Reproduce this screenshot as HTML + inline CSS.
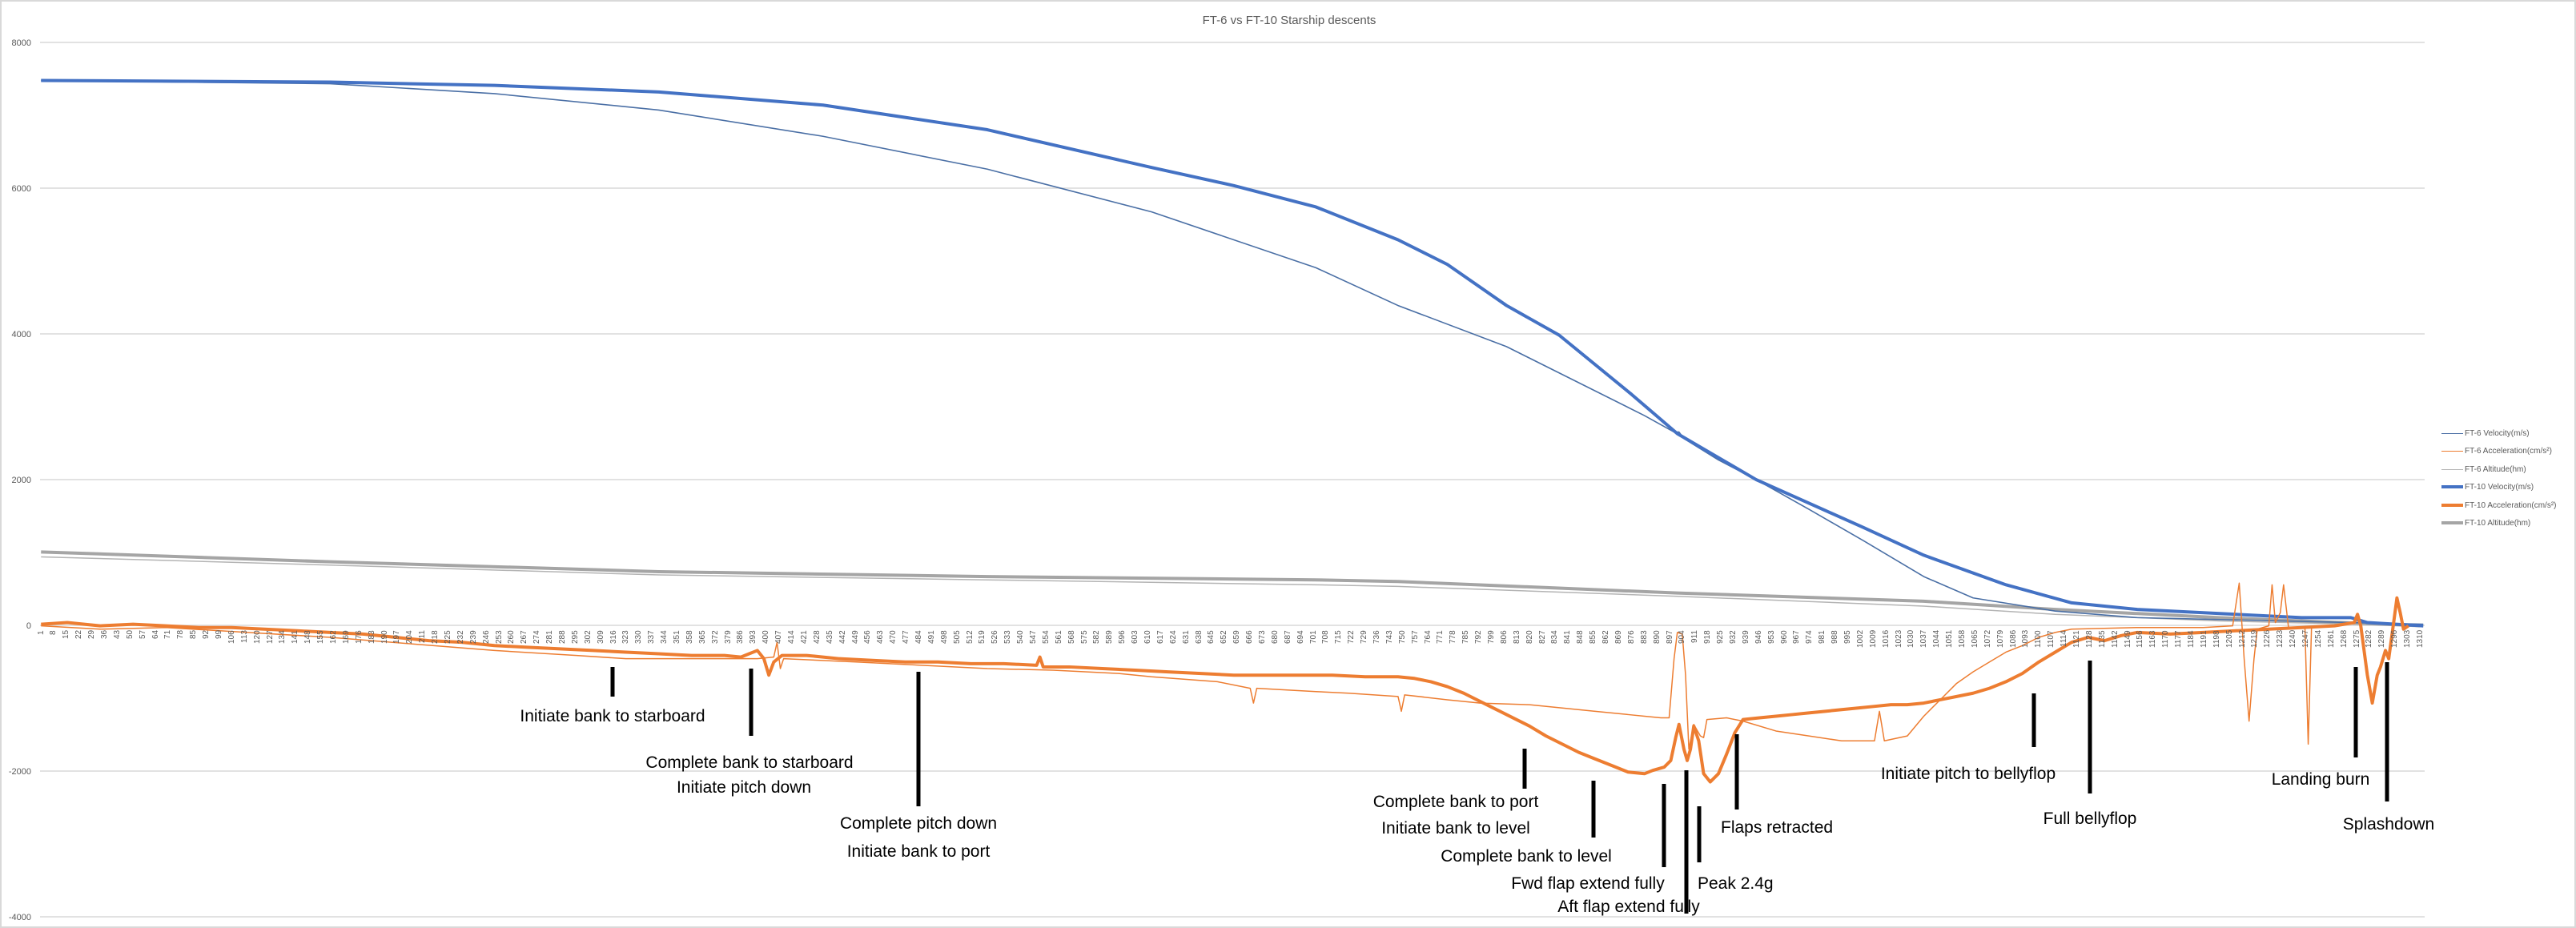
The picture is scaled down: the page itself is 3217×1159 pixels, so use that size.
<!DOCTYPE html>
<html><head><meta charset="utf-8"><style>
html,body{margin:0;padding:0;background:#fff}
#c{position:relative;width:3217px;height:1159px;overflow:hidden;font-family:"Liberation Sans",sans-serif;background:#fff;box-sizing:border-box;border:2px solid #d9d9d9}
svg{position:absolute;left:0;top:0}
#ticks{position:absolute;left:41.5px;top:785px;height:26px;white-space:nowrap;font-size:10px;color:#595959;line-height:16px}
#ticks i{font-style:normal;display:inline-block;width:15.906px;height:26px;writing-mode:vertical-rl;transform:rotate(180deg);text-align:end;vertical-align:top}
.lg{position:absolute;left:3047px;font-size:10px;color:#595959;white-space:nowrap;line-height:12px}
.lg b{display:inline-block;width:27px;vertical-align:middle;margin-right:2px}
</style></head><body><div id="c">
<svg width="3217" height="1159" viewBox="0 0 3217 1159">
<text x="1608" y="28" text-anchor="middle" font-size="15" fill="#595959" font-family="Liberation Sans, sans-serif">FT-6 vs FT-10 Starship descents</text>
<g stroke="#d9d9d9" stroke-width="1.5">
<line x1="48" x2="3026" y1="51" y2="51"/><line x1="48" x2="3026" y1="233" y2="233"/><line x1="48" x2="3026" y1="415" y2="415"/><line x1="48" x2="3026" y1="597" y2="597"/><line x1="48" x2="3026" y1="779" y2="779"/><line x1="48" x2="3026" y1="961" y2="961"/><line x1="48" x2="3026" y1="1143" y2="1143"/>
</g>
<g font-size="11" fill="#595959" text-anchor="end" font-family="Liberation Sans, sans-serif">
<text x="37" y="55">8000</text><text x="37" y="237">6000</text><text x="37" y="419">4000</text><text x="37" y="601">2000</text><text x="37" y="783">0</text><text x="37" y="965">-2000</text><text x="37" y="1147">-4000</text>
</g>
<g transform="scale(2.0517)" fill="none" stroke-linejoin="round">
<polyline vector-effect="non-scaling-stroke" stroke="#b4b4b4" stroke-width="1.5" points="24,338 200,343 400,349 600,352 800,355 850,356 1020,362 1170,368 1250,373 1350,377 1474,380"/>
<polyline vector-effect="non-scaling-stroke" stroke="#a5a5a5" stroke-width="4" points="24,335 200,341 400,347 600,350 800,352 850,353 1020,360 1170,365 1250,370 1350,375 1474,380"/>
<polyline vector-effect="non-scaling-stroke" stroke="#4a6fa5" stroke-width="1.6" points="24,48 200,50 300,56 400,66 500,82 600,102 700,128 800,162 850,185 916,210 1000,252 1018,262 1021,262 1024,266 1045,279 1068,291 1100,309 1133,328 1170,350 1200,363 1250,371 1300,375 1474,379"/>
<polyline vector-effect="non-scaling-stroke" stroke="#4472c4" stroke-width="4" points="24,48 200,49 300,51 400,55 500,63 600,78 700,101 750,112 800,125 850,145 880,160 916,185 948,203 992,239 1020,263 1068,291 1133,320 1170,337 1220,355 1260,366 1300,370 1400,375 1430,375 1440,378 1474,380"/>
<polyline vector-effect="non-scaling-stroke" stroke="#ed7d31" stroke-width="1.5" points="24,380 60,382 100,381 150,384 200,387 250,391 300,395 350,398 380,400 420,400 460,400 470,399 472,390 474,406 476,400 520,402 560,404 600,406 640,407 680,409 700,411 740,414 760,418 762,427 764,418 800,420 820,421 850,423 852,432 854,422 880,425 900,427 930,428 950,430 970,432 990,434 1000,435 1010,436 1015,436 1018,400 1020,384 1023,385 1025,410 1027,455 1030,440 1034,447 1036,448 1038,437 1050,436 1060,438 1080,444 1100,447 1120,450 1140,450 1143,432 1146,450 1160,447 1170,435 1180,425 1190,415 1200,408 1210,402 1220,396 1230,392 1240,387 1250,384 1260,382 1300,381 1340,381 1358,380 1362,354 1365,400 1368,438 1371,400 1373,382 1380,380 1382,355 1384,378 1387,372 1389,355 1392,381 1402,381 1404,452 1406,381 1420,380"/>
<polyline vector-effect="non-scaling-stroke" stroke="#ed7d31" stroke-width="4" points="24,379 40,378 60,380 80,379 100,380 120,381 140,381 160,382 180,383 200,384 220,385 240,387 260,389 280,390 300,392 320,393 340,394 360,395 380,396 400,397 420,398 440,398 450,399 455,397 460,395 464,400 467,410 470,402 475,398 490,398 510,400 530,401 550,402 570,402 590,403 610,403 630,404 632,399 634,405 650,405 670,406 690,407 710,408 730,409 750,410 770,410 790,410 810,410 830,411 850,411 860,412 870,414 880,417 890,421 900,426 910,431 920,436 930,441 940,447 950,452 960,457 970,461 980,465 990,469 1000,470 1005,468 1012,466 1016,462 1019,448 1021,440 1024,455 1026,462 1028,455 1030,441 1033,450 1036,470 1040,475 1045,470 1050,458 1055,445 1060,437 1070,436 1080,435 1090,434 1100,433 1110,432 1120,431 1130,430 1140,429 1150,428 1160,428 1170,427 1180,425 1190,423 1200,421 1210,418 1220,414 1230,409 1240,402 1250,396 1260,390 1270,387 1280,389 1290,386 1300,384 1320,385 1340,384 1360,383 1380,382 1400,381 1420,380 1432,378 1434,373 1436,380 1440,410 1443,427 1446,410 1448,405 1451,395 1453,400 1456,378 1458,363 1460,372 1462,382 1465,380"/>
</g>
<g stroke="#000" stroke-width="5">
<line x1="763" x2="763" y1="831" y2="868"/><line x1="936" x2="936" y1="833" y2="917"/><line x1="1145" x2="1145" y1="837" y2="1005"/><line x1="1902" x2="1902" y1="933" y2="983"/><line x1="1988" x2="1988" y1="973" y2="1044"/><line x1="2076" x2="2076" y1="977" y2="1081"/><line x1="2104" x2="2104" y1="960" y2="1139"/><line x1="2120" x2="2120" y1="1005" y2="1075"/><line x1="2167" x2="2167" y1="915" y2="1009"/><line x1="2538" x2="2538" y1="864" y2="931"/><line x1="2608" x2="2608" y1="823" y2="989"/><line x1="2940" x2="2940" y1="831" y2="944"/><line x1="2979" x2="2979" y1="825" y2="999"/>
</g>
<g font-size="21" fill="#000" text-anchor="middle" font-family="Liberation Sans, sans-serif">
<text x="763" y="899">Initiate bank to starboard</text>
<text x="934" y="957">Complete bank to starboard</text>
<text x="927" y="988">Initiate pitch down</text>
<text x="1145" y="1033">Complete pitch down</text>
<text x="1145" y="1068">Initiate bank to port</text>
<text x="1816" y="1006">Complete bank to port</text>
<text x="1816" y="1039">Initiate bank to level</text>
<text x="1904" y="1074">Complete bank to level</text>
<text x="1981" y="1108">Fwd flap extend fully</text>
<text x="2032" y="1137">Aft flap extend fully</text>
<text x="2118" y="1108" text-anchor="start">Peak 2.4g</text>
<text x="2147" y="1038" text-anchor="start">Flaps retracted</text>
<text x="2456" y="971">Initiate pitch to bellyflop</text>
<text x="2608" y="1027">Full bellyflop</text>
<text x="2896" y="978">Landing burn</text>
<text x="2981" y="1034">Splashdown</text>
</g>
</svg>
<div id="ticks"><i>1</i><i>8</i><i>15</i><i>22</i><i>29</i><i>36</i><i>43</i><i>50</i><i>57</i><i>64</i><i>71</i><i>78</i><i>85</i><i>92</i><i>99</i><i>106</i><i>113</i><i>120</i><i>127</i><i>134</i><i>141</i><i>148</i><i>155</i><i>162</i><i>169</i><i>176</i><i>183</i><i>190</i><i>197</i><i>204</i><i>211</i><i>218</i><i>225</i><i>232</i><i>239</i><i>246</i><i>253</i><i>260</i><i>267</i><i>274</i><i>281</i><i>288</i><i>295</i><i>302</i><i>309</i><i>316</i><i>323</i><i>330</i><i>337</i><i>344</i><i>351</i><i>358</i><i>365</i><i>372</i><i>379</i><i>386</i><i>393</i><i>400</i><i>407</i><i>414</i><i>421</i><i>428</i><i>435</i><i>442</i><i>449</i><i>456</i><i>463</i><i>470</i><i>477</i><i>484</i><i>491</i><i>498</i><i>505</i><i>512</i><i>519</i><i>526</i><i>533</i><i>540</i><i>547</i><i>554</i><i>561</i><i>568</i><i>575</i><i>582</i><i>589</i><i>596</i><i>603</i><i>610</i><i>617</i><i>624</i><i>631</i><i>638</i><i>645</i><i>652</i><i>659</i><i>666</i><i>673</i><i>680</i><i>687</i><i>694</i><i>701</i><i>708</i><i>715</i><i>722</i><i>729</i><i>736</i><i>743</i><i>750</i><i>757</i><i>764</i><i>771</i><i>778</i><i>785</i><i>792</i><i>799</i><i>806</i><i>813</i><i>820</i><i>827</i><i>834</i><i>841</i><i>848</i><i>855</i><i>862</i><i>869</i><i>876</i><i>883</i><i>890</i><i>897</i><i>904</i><i>911</i><i>918</i><i>925</i><i>932</i><i>939</i><i>946</i><i>953</i><i>960</i><i>967</i><i>974</i><i>981</i><i>988</i><i>995</i><i>1002</i><i>1009</i><i>1016</i><i>1023</i><i>1030</i><i>1037</i><i>1044</i><i>1051</i><i>1058</i><i>1065</i><i>1072</i><i>1079</i><i>1086</i><i>1093</i><i>1100</i><i>1107</i><i>1114</i><i>1121</i><i>1128</i><i>1135</i><i>1142</i><i>1149</i><i>1156</i><i>1163</i><i>1170</i><i>1177</i><i>1184</i><i>1191</i><i>1198</i><i>1205</i><i>1212</i><i>1219</i><i>1226</i><i>1233</i><i>1240</i><i>1247</i><i>1254</i><i>1261</i><i>1268</i><i>1275</i><i>1282</i><i>1289</i><i>1296</i><i>1303</i><i>1310</i></div>
<div class="lg" style="top:534px"><b style="border-top:1.5px solid #4a6fa5"></b>FT-6 Velocity(m/s)</div>
<div class="lg" style="top:556px"><b style="border-top:1.5px solid #ed7d31"></b>FT-6 Acceleration(cm/s²)</div>
<div class="lg" style="top:579px"><b style="border-top:1.5px solid #b4b4b4"></b>FT-6 Altitude(hm)</div>
<div class="lg" style="top:601px"><b style="border-top:4px solid #4472c4"></b>FT-10 Velocity(m/s)</div>
<div class="lg" style="top:624px"><b style="border-top:4px solid #ed7d31"></b>FT-10 Acceleration(cm/s²)</div>
<div class="lg" style="top:646px"><b style="border-top:4px solid #a5a5a5"></b>FT-10 Altitude(hm)</div>
</div></body></html>
